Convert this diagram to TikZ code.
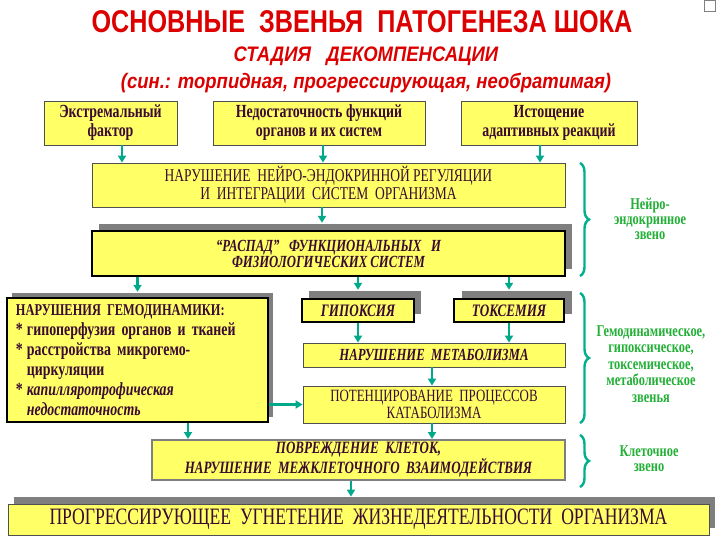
\documentclass[tikz,border=0pt]{standalone}
\usepackage{fontspec}
\setmainfont{Liberation Serif}
\newfontfamily\titlefont[FakeStretch=0.8]{Liberation Sans}
\newfontfamily\headfont[FakeStretch=0.88]{Liberation Sans}
\newfontfamily\boxfont[FakeStretch=0.75]{Liberation Serif}
\usetikzlibrary{calc}
\usetikzlibrary{arrows.meta}
\usetikzlibrary{shadows}
\usetikzlibrary{decorations.pathreplacing}
\definecolor{boxyellow}{HTML}{FFFF66}
\definecolor{boxtext}{HTML}{3A0A30}
\definecolor{framegray}{HTML}{505050}
\definecolor{shadowgray}{HTML}{7F7F7F}
\definecolor{linkteal}{HTML}{00A98A}
\definecolor{braceteal}{HTML}{00B08C}
\definecolor{taggreen}{HTML}{22B036}
\definecolor{headred}{HTML}{DD0000}

\begin{document}
\begin{tikzpicture}[
x=1pt, y=1pt,
box/.style={draw=framegray, line width=0.8pt, fill=boxyellow, text=boxtext, inner sep=0pt, align=center,
  font=\boxfont\bfseries\fontsize{17}{18}\selectfont},
heavy/.style={box, draw=black, line width=2.4pt},
lifted/.style 2 args={drop shadow={shadow xshift=#1, shadow yshift=#2, fill=shadowgray, opacity=1}},
link/.style={draw=linkteal, line width=2.2pt, -{Triangle[length=7pt,width=8pt]}},
curly/.style={draw=braceteal, line width=2.4pt, decorate, decoration={brace, amplitude=9pt}},
tag/.style={text=taggreen, align=center, inner sep=0pt, font=\boxfont\bfseries\fontsize{16.5}{15}\selectfont},
head/.style={text=headred, inner sep=0pt, font=\headfont\bfseries\itshape}
]
\fill[white] (0,0) rectangle (720,-540);
\useasboundingbox (0,0) rectangle (720,-540);

% headings
\node[head, font=\titlefont\bfseries\fontsize{31.5}{33}\selectfont] (title) at (362,-22)
  {ОСНОВНЫЕ\ \ ЗВЕНЬЯ\ \ ПАТОГЕНЕЗА ШОКА};
\node[head, font=\headfont\bfseries\itshape\fontsize{21}{22}\selectfont] (stage) at (366,-56)
  {СТАДИЯ\ \ \ ДЕКОМПЕНСАЦИИ};
\node[head, font=\headfont\bfseries\itshape\fontsize{21}{22}\selectfont] (syn) at (366,-83)
  {(син.: торпидная, прогрессирующая, необратимая)};
\node[draw=gray, line width=0.6pt, minimum size=11pt, inner sep=0pt] (icon) at (710,-6) {};

% top row
\node[box, font=\boxfont\bfseries\fontsize{18.5}{19}\selectfont, minimum width=133pt, minimum height=44pt] (ext) at (110.5,-123)
  {Экстремальный\\фактор};
\node[box, font=\boxfont\bfseries\fontsize{18.5}{19}\selectfont, minimum width=212pt, minimum height=44pt] (insuf) at (319,-123)
  {Недостаточность функций\\органов и их систем};
\node[box, font=\boxfont\bfseries\fontsize{18.5}{19}\selectfont, minimum width=176pt, minimum height=44pt] (exhaust) at (549,-123)
  {Истощение\\адаптивных реакций};

% neuro-endocrine link
\node[box, font=\boxfont\fontsize{18}{18}\selectfont, minimum width=473pt, minimum height=44pt] (neuro) at (328.5,-185)
  {НАРУШЕНИЕ\ \ НЕЙРО-ЭНДОКРИННОЙ РЕГУЛЯЦИИ\\И\ \ ИНТЕГРАЦИИ\ \ СИСТЕМ\ \ ОРГАНИЗМА};
\node[heavy, lifted={7pt}{7pt}, font=\boxfont\bfseries\itshape\fontsize{17}{16}\selectfont, minimum width=473pt, minimum height=45pt] (decay) at (328.5,-253.5)
  {“РАСПАД”\ \ \ ФУНКЦИОНАЛЬНЫХ\ \ \ И\\ФИЗИОЛОГИЧЕСКИХ СИСТЕМ};

% middle block
\node[heavy, lifted={5pt}{5pt}, font=\boxfont\bfseries\fontsize{18.5}{20}\selectfont, align=left,
  text width=243pt, inner xsep=9pt, minimum height=124pt] (hemo) at (137.5,-360)
  {{\fontsize{16.5}{20}\selectfont НАРУШЕНИЯ ГЕМОДИНАМИКИ:}\\
   \makebox[11pt][l]{*}гипоперфузия органов и тканей\\
   \makebox[11pt][l]{*}расстройства микрогемо-\\
   \hspace*{11pt}циркуляции\\
   \makebox[11pt][l]{*}\textit{капилляротрофическая}\\
   \hspace*{11pt}\textit{недостаточность}};
\node[heavy, lifted={7pt}{8pt}, font=\boxfont\bfseries\itshape\fontsize{17.5}{16}\selectfont, minimum width=112pt, minimum height=23pt] (hypox) at (358,-310.5)
  {ГИПОКСИЯ};
\node[heavy, lifted={8pt}{8pt}, font=\boxfont\bfseries\itshape\fontsize{17.5}{16}\selectfont, minimum width=110pt, minimum height=23pt] (toxem) at (509,-310.5)
  {ТОКСЕМИЯ};
\node[box, font=\boxfont\bfseries\itshape\fontsize{17}{16}\selectfont, minimum width=262pt, minimum height=24pt] (metab) at (434,-355)
  {НАРУШЕНИЕ\ \ МЕТАБОЛИЗМА};
\node[box, font=\boxfont\fontsize{17.2}{17}\selectfont, minimum width=262pt, minimum height=37pt] (catab) at (434,-404.5)
  {ПОТЕНЦИРОВАНИЕ\ \ ПРОЦЕССОВ\\КАТАБОЛИЗМА};

% bottom
\node[box, draw=shadowgray, line width=2pt, font=\boxfont\bfseries\itshape\fontsize{17.3}{16}\selectfont, minimum width=413pt, minimum height=40pt] (cells) at (358.5,-460)
  {ПОВРЕЖДЕНИЕ\ \ КЛЕТОК,\\НАРУШЕНИЕ\ \ МЕЖКЛЕТОЧНОГО\ \ ВЗАИМОДЕЙСТВИЯ};
\node[box, lifted={6pt}{7pt}, font=\boxfont\fontsize{23.5}{22}\selectfont, minimum width=701pt, minimum height=31pt] (final) at (358.5,-519.5)
  {ПРОГРЕССИРУЮЩЕЕ\ \ УГНЕТЕНИЕ\ \ ЖИЗНЕДЕЯТЕЛЬНОСТИ\ \ ОРГАНИЗМА};

% arrows
\draw[link] ([xshift=11.5pt]ext.south) -- ([xshift=11.5pt]ext.south |- neuro.north);
\draw[link] ([xshift=4pt]insuf.south) -- ([xshift=4pt]insuf.south |- neuro.north);
\draw[link] ([xshift=-9pt]exhaust.south) -- ([xshift=-9pt]exhaust.south |- neuro.north);
\draw[link] ([xshift=-6.5pt]neuro.south) -- ([xshift=-6.5pt,yshift=7pt]neuro.south |- decay.north);
\draw[link] (decay.south -| hemo.north) -- ([yshift=5pt]hemo.north);
\draw[link] (decay.south -| hypox.north) -- ([yshift=8pt]hypox.north);
\draw[link] (decay.south -| toxem.north) -- ([yshift=8pt]toxem.north);
\draw[link] (hypox.south) -- (hypox.south |- metab.north);
\draw[link] (toxem.south) -- (toxem.south |- metab.north);
\draw[link] ([xshift=-2pt]metab.south) -- ([xshift=-2pt]catab.north);
\draw[link] (catab.west -| hemo.east) -- (catab.west);
\draw[link] ([xshift=50.5pt]hemo.south) -- ([xshift=50.5pt]hemo.south |- cells.north);
\draw[link] ([xshift=-2pt]catab.south) -- ([xshift=-2pt]catab.south |- cells.north);
\draw[link] ([xshift=-7.5pt]cells.south) -- ([xshift=-7.5pt,yshift=7pt]cells.south |- final.north);

% braces
\coordinate (b1top) at (580,-163);
\coordinate (b1bot) at (580,-276);
\coordinate (b2top) at (580,-293);
\coordinate (b2bot) at (580,-423);
\coordinate (b3top) at (580,-435);
\coordinate (b3bot) at (580,-487);
\draw[curly] (b1top) -- (b1bot);
\draw[curly] (b2top) -- (b2bot);
\draw[curly] (b3top) -- (b3bot);

\node[tag] (neurotag) at (650,-219) {Нейро-\\эндокринное\\звено};
\node[tag, font=\boxfont\bfseries\fontsize{16.5}{16.5}\selectfont] (hemotag) at (651,-364)
  {Гемодинамическое,\\гипоксическое,\\токсемическое,\\метаболическое\\звенья};
\node[tag] (celltag) at (649,-459) {Клеточное\\звено};

\end{tikzpicture}
\end{document}
